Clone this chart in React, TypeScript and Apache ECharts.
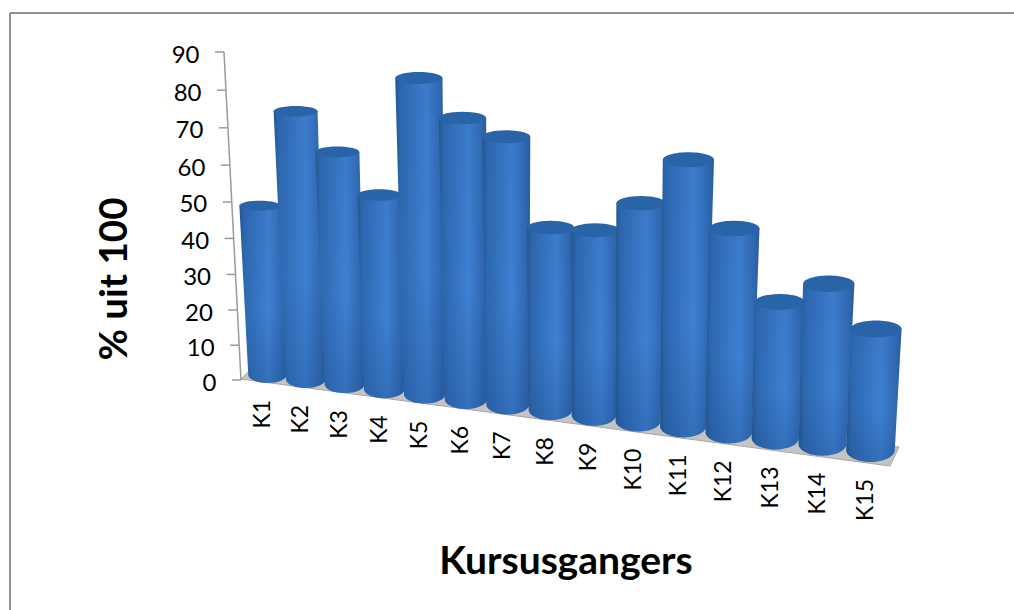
import React, { useEffect, useRef } from "react";
import * as echarts from "echarts";

const categories = ["K1","K2","K3","K4","K5","K6","K7","K8","K9","K10","K11","K12","K13","K14","K15"];
const scores = [47.5,73.6,63.5,53,84,74.5,70.5,48.2,48.5,56.3,68,52,34.8,40.5,30.5];
const yTicks = [0,10,20,30,40,50,60,70,80,90];
const yTitle = "% uit 100";
const xTitle = "Kursusgangers";
const FONT = "Lato, Carlito, 'Noto Sans', sans-serif";

// Perspective of the 3D plot, applied on top of the library's linear scales.
const warpAxisY = (api: any, v: number) => api.coord([0, v])[1] + 0.0021 * v * (90 - v);
const floorHeight = (api: any, v: number) => api.coord([0, 0])[1] - warpAxisY(api, v);
const warpX = (api: any, i: number) => {
  const c0 = api.coord([0, 0])[0];
  const d = api.coord([i, 0])[0] - c0;
  const D = api.coord([categories.length - 1, 0])[0] - c0;
  return c0 + d + 0.000204 * d * (d - D);
};

function renderAxis(params: any, api: any) {
  const v = api.value(1);
  const i = params.dataIndex;
  const y0 = api.coord([0, 0])[1];
  const y = warpAxisY(api, v);
  const t = (y0 - y) / (y0 - api.coord([0, 90])[1]);
  const x = 241 - 17 * t;
  const children: any[] = [
    { type: "line", shape: { x1: x - 9, y1: y, x2: x, y2: y }, style: { stroke: "#9a9a9a", lineWidth: 1.5 } },
    { type: "text", x: x - 24.5, y: y + 1, style: { text: String(v), fill: "#000", font: `24px ${FONT}`, textAlign: "right", textVerticalAlign: "middle" } },
  ];
  if (i === 0) {
    children.unshift(
      { type: "polygon", shape: { points: [[241, 379], [248, 372], [899, 447], [890, 466]] }, style: { fill: "#c4c4c4", stroke: "#a6a6a6", lineWidth: 1 } },
      { type: "line", shape: { x1: 241, y1: y0, x2: 224, y2: api.coord([0, 90])[1] }, style: { stroke: "#9a9a9a", lineWidth: 1.5 } },
    );
  }
  return { type: "group", children };
}

function ellipsePoints(cx: number, cy: number, rx: number, ry: number, from: number, to: number) {
  const n = 28;
  const pts: number[][] = [];
  for (let k = 0; k <= n; k++) {
    const a = from + ((to - from) * k) / n;
    pts.push([cx + rx * Math.cos(a), cy + ry * Math.sin(a)]);
  }
  return pts;
}

function renderBar(params: any, api: any) {
  const i = api.value(0);
  const v = api.value(1);
  const c0 = api.coord([0, 0])[0];
  const baseX = warpX(api, i);
  const bottomY = 383 + 0.131 * (baseX - c0);
  const rb = 8.5 + 0.25 * i;
  const baseY = bottomY - rb;
  const H = floorHeight(api, v) * (1 + (0.126 * i) / 14);
  const topX = baseX - (0.044 - 0.0064 * i) * H;
  const topY = baseY - H;
  const baseW = 38.5 + 0.72 * i;
  const topW = baseW * (1 + H * 0.00045);
  const rt = 5 + 0.25 * i;
  const side = [[topX - topW / 2, topY], [topX + topW / 2, topY], ...ellipsePoints(baseX, baseY, baseW / 2, rb, 0, Math.PI)];
  const lab = baseX - 6.5;
  return {
    type: "group",
    children: [
      {
        type: "polygon",
        shape: { points: side },
        style: {
          fill: new echarts.graphic.LinearGradient(0, 0, 1, 0, [
            { offset: 0, color: "#25588f" },
            { offset: 0.1, color: "#2d68b0" },
            { offset: 0.62, color: "#3e80d2" },
            { offset: 0.9, color: "#3069b3" },
            { offset: 1, color: "#285e9e" },
          ]),
        },
      },
      {
        type: "polygon",
        shape: { points: side },
        style: {
          fill: new echarts.graphic.LinearGradient(0, 0, 0, 1, [
            { offset: 0, color: "rgba(30,70,130,0.08)" },
            { offset: 0.6, color: "rgba(30,70,130,0)" },
            { offset: 1, color: "rgba(25,70,130,0.28)" },
          ]),
        },
      },
      {
        type: "ellipse",
        shape: { cx: topX, cy: topY, rx: topW / 2, ry: rt },
        style: { fill: "#2a64a8" },
      },
      {
        type: "text",
        x: lab,
        y: bottomY + 17,
        rotation: Math.PI / 2,
        style: { text: categories[i], fill: "#000", font: `23px ${FONT}`, textAlign: "right", textVerticalAlign: "middle" },
      },
    ],
  };
}

export default function App() {
  const ref = useRef<HTMLDivElement>(null);
  useEffect(() => {
    document.body.style.margin = "0";
    const chart = echarts.init(ref.current!, undefined, { renderer: "svg" });
    chart.setOption({
      animation: false,
      backgroundColor: "#fff",
      grid: { left: 246, width: 646, top: 52, height: 328 },
      xAxis: { type: "category", data: categories, show: false },
      yAxis: { type: "value", min: 0, max: 90, interval: 10, show: false },
      graphic: [
        { type: "line", shape: { x1: 10, y1: 13, x2: 1014, y2: 13 }, style: { stroke: "#8f8f8f", lineWidth: 2 } },
        { type: "line", shape: { x1: 10, y1: 13, x2: 10, y2: 610 }, style: { stroke: "#8f8f8f", lineWidth: 2 } },
        { type: "text", x: 566, y: 559, style: { text: xTitle, fill: "#000", font: `bold 39px ${FONT}`, textAlign: "center", textVerticalAlign: "middle" } },
        { type: "text", x: 112, y: 279, rotation: Math.PI / 2, style: { text: yTitle, fill: "#000", font: `bold 38.5px ${FONT}`, textAlign: "center", textVerticalAlign: "middle" } },
      ],
      series: [
        { type: "custom", coordinateSystem: "cartesian2d", clip: false, z: 1, renderItem: renderAxis, data: yTicks.map((v) => [0, v]), encode: { x: 0, y: 1 } },
        { type: "custom", coordinateSystem: "cartesian2d", clip: false, z: 2, renderItem: renderBar, data: scores.map((v, i) => [i, v]), encode: { x: 0, y: 1 } },
      ],
    });
    return () => chart.dispose();
  }, []);
  return <div ref={ref} style={{ width: 1014, height: 610, position: "absolute", left: 0, top: 0 }} />;
}
